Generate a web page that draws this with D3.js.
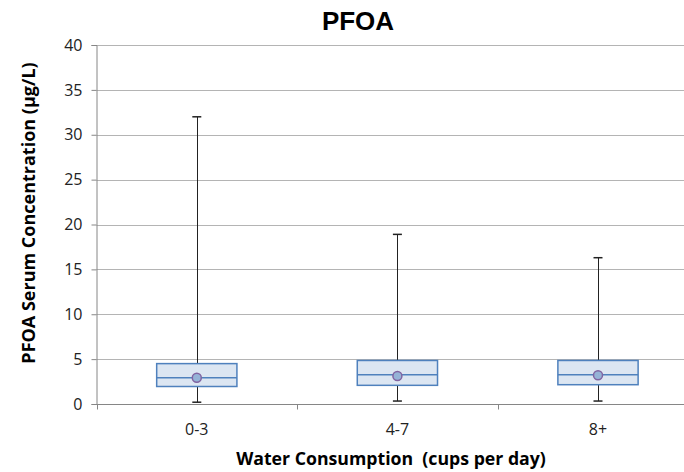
<!DOCTYPE html>
<html>
<head>
<meta charset="utf-8">
<script src="https://cdn.jsdelivr.net/npm/d3@7"></script>
<style>
  html, body { margin: 0; padding: 0; background: #fff; }
  svg { display: block; }
</style>
</head>
<body>
<div id="chart"></div>
<script>
// Water consumption groups and PFOA serum concentration summaries (µg/L)
const categories = ["0-3", "4-7", "8+"];
const minValues    = [0.2, 0.33, 0.33];
const q1Values     = [1.95, 2.08, 2.15];
const medianValues = [2.93, 3.27, 3.27];
const q3Values     = [4.5, 4.85, 4.85];
const maxValues    = [32.0, 18.9, 16.3];
const meanValues   = [2.93, 3.12, 3.2];
const yTicks = [0, 5, 10, 15, 20, 25, 30, 35, 40];

const width = 684, height = 472;
const margin = { top: 45, left: 96.5, bottom: 68 };
const plotRight = 698.3;

const boxes = categories.map((c, i) => ({
  cat: c, min: minValues[i], q1: q1Values[i], median: medianValues[i],
  q3: q3Values[i], max: maxValues[i], mean: meanValues[i]
}));

const svg = d3.select("#chart").append("svg")
  .attr("width", width).attr("height", height);

const x = d3.scaleBand().domain(categories).range([margin.left, plotRight]).padding(0);
const y = d3.scaleLinear().domain([0, 40]).range([height - margin.bottom, margin.top]);

const gridColor = "#b4b4b4";
const axisColor = "#868686";
const font = "'Open Sans', 'Liberation Sans', Arial, sans-serif";
const titleFont = "'Liberation Sans', Arial, sans-serif";

// horizontal gridlines
svg.append("g").selectAll("line").data(yTicks.filter(t => t > 0)).join("line")
  .attr("x1", margin.left).attr("x2", width)
  .attr("y1", d => Math.round(y(d)) + 0.5).attr("y2", d => Math.round(y(d)) + 0.5)
  .attr("stroke", gridColor).attr("stroke-width", 1);

// y axis
const yAxis = svg.append("g")
  .attr("transform", `translate(${margin.left},0)`)
  .call(d3.axisLeft(y).tickValues(yTicks).tickSize(5).tickPadding(9));
yAxis.select(".domain").attr("stroke", axisColor);
yAxis.selectAll(".tick line").attr("stroke", axisColor);
yAxis.selectAll(".tick text").attr("font-family", font).attr("font-size", 16).attr("fill", "#222");

// x axis with tick marks at group boundaries
const xBase = Math.round(y(0)) + 0.5;
svg.append("line").attr("x1", margin.left).attr("x2", width)
  .attr("y1", xBase).attr("y2", xBase).attr("stroke", axisColor);
const bounds = categories.map(c => x(c)).concat([x(categories[categories.length - 1]) + x.bandwidth()]);
svg.append("g").selectAll("line").data(bounds).join("line")
  .attr("x1", d => Math.round(d) + 0.5).attr("x2", d => Math.round(d) + 0.5)
  .attr("y1", xBase).attr("y2", xBase + 5).attr("stroke", axisColor);
svg.append("g").selectAll("text").data(categories).join("text")
  .attr("x", d => x(d) + x.bandwidth() / 2).attr("y", 435)
  .attr("text-anchor", "middle").attr("font-family", font).attr("font-size", 16)
  .attr("fill", "#222").text(d => d);

// boxes
const boxW = x.bandwidth() * 0.4;
const g = svg.append("g").selectAll("g").data(boxes).join("g");
const cx = d => x(d.cat) + x.bandwidth() / 2;

// whiskers
g.append("line")
  .attr("x1", d => Math.round(cx(d)) + 0.5).attr("x2", d => Math.round(cx(d)) + 0.5)
  .attr("y1", d => y(d.max)).attr("y2", d => y(d.q3))
  .attr("stroke", "#222").attr("stroke-width", 1);
g.append("line")
  .attr("x1", d => Math.round(cx(d)) + 0.5).attr("x2", d => Math.round(cx(d)) + 0.5)
  .attr("y1", d => y(d.q1)).attr("y2", d => y(d.min))
  .attr("stroke", "#222").attr("stroke-width", 1);
// caps
["max", "min"].forEach(k => {
  g.append("line")
    .attr("x1", d => cx(d) - 4.5).attr("x2", d => cx(d) + 4.5)
    .attr("y1", d => y(d[k])).attr("y2", d => y(d[k]))
    .attr("stroke", "#222").attr("stroke-width", 1.5);
});

g.append("rect")
  .attr("x", d => cx(d) - boxW / 2).attr("width", boxW)
  .attr("y", d => y(d.q3)).attr("height", d => y(d.q1) - y(d.q3))
  .attr("fill", "#dce6f2").attr("stroke", "#4f81bd").attr("stroke-width", 1.5);
g.append("line")
  .attr("x1", d => cx(d) - boxW / 2).attr("x2", d => cx(d) + boxW / 2)
  .attr("y1", d => y(d.median)).attr("y2", d => y(d.median))
  .attr("stroke", "#4f81bd").attr("stroke-width", 1.5);
g.append("circle")
  .attr("cx", cx).attr("cy", d => y(d.mean)).attr("r", 4.5)
  .attr("fill", "#95b3d7").attr("stroke", "#8064a2").attr("stroke-width", 1.5);

// titles
svg.append("text").attr("x", 358).attr("y", 30).attr("text-anchor", "middle")
  .attr("font-family", titleFont).attr("font-weight", "bold").attr("font-size", 26)
  .attr("fill", "#000").text("PFOA");

svg.append("text")
  .attr("transform", `translate(35,213) rotate(-90)`)
  .attr("text-anchor", "middle").attr("font-family", font).attr("font-weight", "bold")
  .attr("font-size", 18).attr("fill", "#000")
  .text("PFOA Serum Concentration (µg/L)");

svg.append("text").attr("x", 391).attr("y", 465).attr("text-anchor", "middle")
  .attr("font-family", font).attr("font-weight", "bold").attr("font-size", 17.7)
  .attr("fill", "#000").attr("xml:space", "preserve")
  .text("Water Consumption  (cups per day)");
</script>
</body>
</html>
